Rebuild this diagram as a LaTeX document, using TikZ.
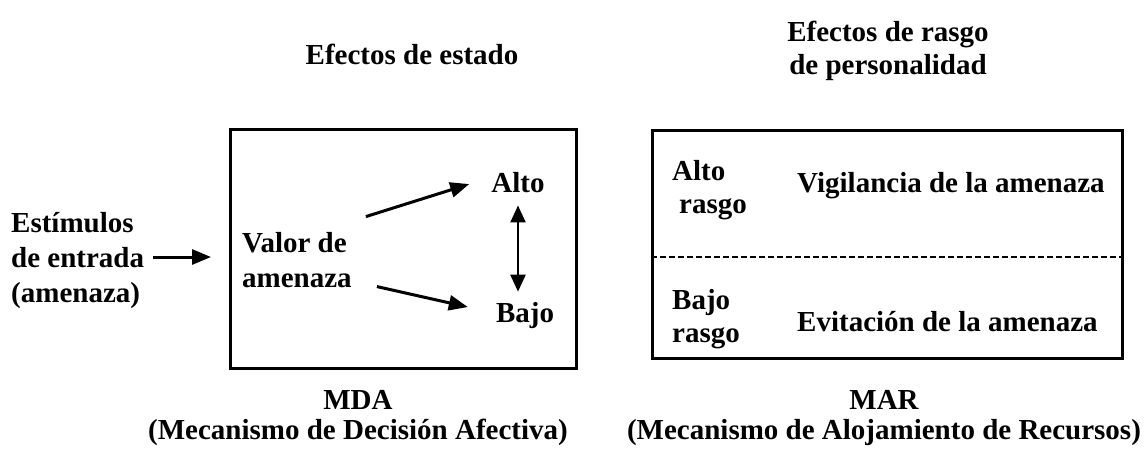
\documentclass[tikz,border=0pt]{standalone}
\usepackage{fontspec}
\setmainfont{Liberation Serif}
\usetikzlibrary{arrows.meta}
\begin{document}
\begin{tikzpicture}[x=1pt,y=-1pt,
  txt/.style={font=\bfseries\fontsize{29}{35}\selectfont, inner sep=0pt},
  sp33/.style={font=\bfseries\fontsize{29}{33}\selectfont},
  sp30/.style={font=\bfseries\fontsize{29}{30}\selectfont},
  arr/.style={line width=3pt, -{Triangle[length=19pt,width=15pt]}},
  darr/.style={line width=2.4pt, {Triangle[length=17pt,width=15pt]}-{Triangle[length=17pt,width=15pt]}},
  boxnode/.style={draw, line width=3pt, inner sep=0pt, anchor=north west},
  dline/.style={line width=2pt, dash pattern=on 6pt off 3pt}
]
\useasboundingbox (0,0) rectangle (1146,455);

% titles (multi-line nodes: base = baseline of last line)
\node[txt, anchor=base] (t1) at (412,64) {Efectos de estado};
\node[txt, sp33, anchor=base, align=center] (t2) at (888,74) {Efectos de rasgo\\de personalidad};

% boxes
\node[boxnode, minimum width=346pt, minimum height=239pt] (mda) at (229,128) {};
\node[boxnode, minimum width=470pt, minimum height=228pt] (mar) at (651,129) {};
\draw[dline] ([shift={(0,128)}]mar.north west) -- ([shift={(0,128)}]mar.north east);

% left part
\node[txt, anchor=base west, align=left] (stim) at (11,302) {Estímulos\\de entrada\\(amenaza)};
\coordinate (inend) at (211,257);
\draw[arr] ([xshift=9pt]stim.east |- inend) -- (inend);

\node[txt, anchor=base west, align=left] (valor) at (242,287) {Valor de\\amenaza};
\node[txt, anchor=base] (alto) at (518,192) {Alto};
\node[txt, anchor=base] (bajo) at (525,322) {Bajo};

\draw[arr] ([shift={(14,-43)}]valor.east) -- ([shift={(-22,2)}]alto.west);
\draw[arr] ([shift={(25,27)}]valor.east) -- ([shift={(-28,-8)}]bajo.west);
\draw[darr] ([yshift=-13pt]alto.south) -- ([yshift=10pt]alto.south |- bajo.north);

% right part
\node[txt, sp33, anchor=base west, align=left] (altor) at (672,213) {Alto\\\hspace*{7pt}rasgo};
\node[txt, sp33, anchor=base west, align=left] (bajor) at (672,342) {Bajo\\rasgo};
\node[txt, anchor=base west] (vig) at (797,192) {Vigilancia de la amenaza};
\node[txt, anchor=base west] (evi) at (797,331) {Evitación de la amenaza};

% bottom labels
\node[txt, sp30, anchor=base, align=center] (b1) at (358,439) {MDA\\(Mecanismo de Decisión Afectiva)};
\node[txt, sp30, anchor=base, align=center] (b2) at (884,439) {MAR\\(Mecanismo de Alojamiento de Recursos)};
\end{tikzpicture}
\end{document}
